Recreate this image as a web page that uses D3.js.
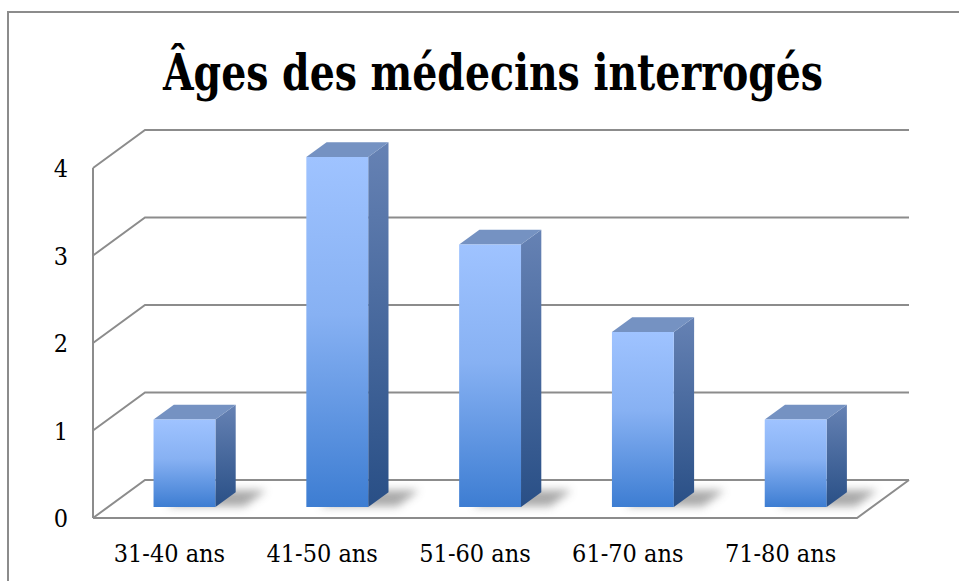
<!DOCTYPE html>
<html>
<head>
<meta charset="utf-8">
<script src="https://cdn.jsdelivr.net/npm/d3@7"></script>
<style>
  html, body { margin: 0; padding: 0; background: #fff; }
  svg { display: block; }
</style>
</head>
<body>
<div id="chart"></div>
<script>
// chart data
const categories = ["31-40 ans", "41-50 ans", "51-60 ans", "61-70 ans", "71-80 ans"];
const values = [1, 4, 3, 2, 1];
const yTicks = [0, 1, 2, 3, 4];
const title = "Âges des médecins interrogés";

const W = 959, H = 581;
const labelFont = "'DejaVu Serif Condensed', 'DejaVu Serif', serif";

const svg = d3.select("#chart").append("svg")
    .attr("width", W)
    .attr("height", H);

// 3D box geometry
const floor = {left: 93, right: 857, front: 518, top: 168};
const depth = {dx: 52, dy: 38};
const barZ = [0.29, 0.68];

const x = d3.scaleBand()
    .domain(categories)
    .range([floor.left, floor.right])
    .paddingInner(0)
    .paddingOuter(0);

const y = d3.scaleLinear()
    .domain([0, 4])
    .range([floor.front, floor.top]);

// project (screen x on front plane, value, depth fraction)
const P = (px, v, z) => [px + z * depth.dx, y(v) - z * depth.dy];

const defs = svg.append("defs");

const gFront = defs.append("linearGradient")
    .attr("id", "gFront").attr("x1", 0).attr("y1", 0).attr("x2", 0).attr("y2", 1);
gFront.append("stop").attr("offset", "0%").attr("stop-color", "#9fc3ff");
gFront.append("stop").attr("offset", "45%").attr("stop-color", "#87b1f3");
gFront.append("stop").attr("offset", "100%").attr("stop-color", "#3d7dd2");

const gSide = defs.append("linearGradient")
    .attr("id", "gSide").attr("x1", 0).attr("y1", 0).attr("x2", 0).attr("y2", 1);
gSide.append("stop").attr("offset", "0%").attr("stop-color", "#6682b4");
gSide.append("stop").attr("offset", "100%").attr("stop-color", "#294f86");

defs.append("filter")
    .attr("id", "blur")
    .attr("x", "-50%").attr("y", "-50%").attr("width", "200%").attr("height", "200%")
    .append("feGaussianBlur").attr("stdDeviation", 4);

// outer frame
svg.append("rect")
    .attr("x", 8).attr("y", 12)
    .attr("width", 1000).attr("height", 700)
    .attr("fill", "#fff")
    .attr("stroke", "#8c8c8c")
    .attr("stroke-width", 2);

// title (squeezed to the width of the original)
svg.append("text")
    .attr("x", 493)
    .attr("y", 90)
    .attr("text-anchor", "middle")
    .attr("font-family", labelFont)
    .attr("font-weight", "bold")
    .attr("font-size", 50)
    .attr("textLength", 660)
    .attr("lengthAdjust", "spacingAndGlyphs")
    .attr("fill", "#000")
    .text(title);

const lineCol = "#8c8c8c";
const grid = svg.append("g")
    .attr("fill", "none")
    .attr("stroke", lineCol)
    .attr("stroke-width", 2);

// left wall front edge
grid.append("line")
    .attr("x1", floor.left).attr("y1", y(0))
    .attr("x2", floor.left).attr("y2", y(4));

// gridlines: diagonal on side wall + horizontal on back wall
yTicks.forEach(t => {
    const a = P(floor.left, t, 0), b = P(floor.left, t, 1), c = P(floor.right, t, 1);
    grid.append("polyline")
        .attr("points", [a, b, c].map(p => p.join(",")).join(" "));
});

// floor outline front and right
grid.append("polyline")
    .attr("points", [P(floor.left, 0, 0), P(floor.right, 0, 0), P(floor.right, 0, 1)]
        .map(p => p.join(",")).join(" "));

// y tick labels
svg.append("g")
    .selectAll("text")
    .data(yTicks)
    .join("text")
    .attr("x", 61)
    .attr("y", d => y(d) + 9)
    .attr("text-anchor", "middle")
    .attr("font-family", labelFont)
    .attr("font-size", 25)
    .attr("fill", "#000")
    .text(d => d);

// x labels
svg.append("g")
    .selectAll("text")
    .data(categories)
    .join("text")
    .attr("x", d => x(d) + x.bandwidth() / 2)
    .attr("y", 562)
    .attr("text-anchor", "middle")
    .attr("font-family", labelFont)
    .attr("font-size", 25)
    .attr("fill", "#000")
    .text(d => d);

// bars
const bw = x.bandwidth() * 0.405;
const pts = arr => arr.map(p => p.join(",")).join(" ");

const bars = svg.append("g")
    .selectAll("g")
    .data(categories.map((c, i) => ({c, v: values[i]})))
    .join("g");

// shadow on floor
bars.append("polygon")
    .attr("points", d => {
        const x0 = x(d.c) + (x.bandwidth() - bw) / 2 + 12, x1 = x0 + bw + 16;
        return pts([P(x0, 0, barZ[0] + 0.02), P(x1, 0, barZ[0] + 0.02), P(x1, 0, barZ[1] + 0.05), P(x0, 0, barZ[1] + 0.05)]);
    })
    .attr("fill", "#555")
    .attr("opacity", 0.5)
    .attr("filter", "url(#blur)");

// side face
bars.append("polygon")
    .attr("points", d => {
        const x1 = x(d.c) + (x.bandwidth() + bw) / 2;
        return pts([P(x1, 0, barZ[0]), P(x1, d.v, barZ[0]), P(x1, d.v, barZ[1]), P(x1, 0, barZ[1])]);
    })
    .attr("fill", "url(#gSide)");

// top face
bars.append("polygon")
    .attr("points", d => {
        const x0 = x(d.c) + (x.bandwidth() - bw) / 2, x1 = x0 + bw;
        return pts([P(x0, d.v, barZ[0]), P(x1, d.v, barZ[0]), P(x1, d.v, barZ[1]), P(x0, d.v, barZ[1])]);
    })
    .attr("fill", "#7592c2");

// front face
bars.append("polygon")
    .attr("points", d => {
        const x0 = x(d.c) + (x.bandwidth() - bw) / 2, x1 = x0 + bw;
        return pts([P(x0, 0, barZ[0]), P(x1, 0, barZ[0]), P(x1, d.v, barZ[0]), P(x0, d.v, barZ[0])]);
    })
    .attr("fill", "url(#gFront)");
</script>
</body>
</html>
